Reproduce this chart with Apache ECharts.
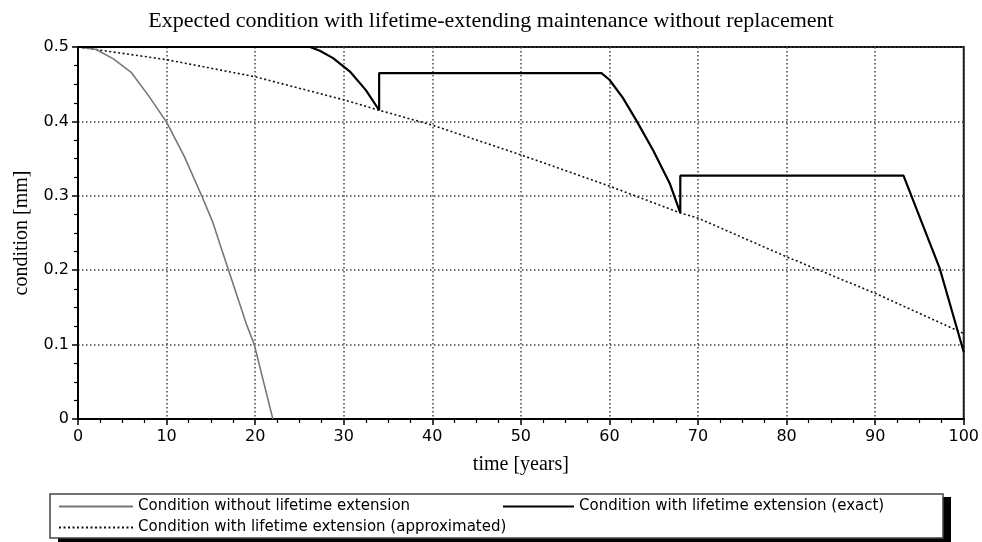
<!DOCTYPE html>
<html>
<head>
<meta charset="utf-8">
<script src="https://cdn.jsdelivr.net/npm/echarts@6/dist/echarts.min.js"></script>
<style>
html,body{margin:0;padding:0;background:#fff;}
#chart{width:982px;height:542px;}
</style>
</head>
<body>
<div id="chart"></div>
<script>
// ---- data ----
var titleText = 'Expected condition with lifetime-extending maintenance without replacement';
var xTicks = [0, 10, 20, 30, 40, 50, 60, 70, 80, 90, 100];
var yTicks = [0, 0.1, 0.2, 0.3, 0.4, 0.5];
var seriesNames = [
  'Condition without lifetime extension',
  'Condition with lifetime extension (exact)',
  'Condition with lifetime extension (approximated)'
];

var noExtX = [0, 2, 4, 6, 8, 10, 12, 14, 15.2, 16, 17, 19, 19.9, 22];
var noExtY = [0.5, 0.497, 0.484, 0.466, 0.434, 0.399, 0.353, 0.299, 0.265, 0.236, 0.2, 0.128, 0.1, 0];

var exactX = [0, 26.2, 27.3, 28.8, 30.7, 32.5, 34, 34, 59.1, 60, 61.5, 63, 64.9, 66.8, 68, 68, 93.2, 97.3, 100];
var exactY = [0.5, 0.5, 0.495, 0.485, 0.467, 0.442, 0.415, 0.465, 0.465, 0.456, 0.432, 0.402, 0.362, 0.317, 0.277, 0.327, 0.327, 0.202, 0.09];

var approxX = [0, 10, 20, 30, 34, 40, 50, 60, 68, 70, 80, 90, 100];
var approxY = [0.5, 0.483, 0.46, 0.429, 0.415, 0.395, 0.355, 0.313, 0.277, 0.27, 0.218, 0.169, 0.115];

function zip(xs, ys) { return xs.map(function (x, i) { return [x, ys[i]]; }); }

var chart = echarts.init(document.getElementById('chart'), null, {renderer: 'canvas'});

var gridLine = {show: true, lineStyle: {color: '#444', width: 1.5, type: [1.5, 2.5]}};
var labelFont = {color: '#000', fontFamily: 'DejaVu Sans', fontSize: 16};
var legendText = {color: '#000', fontFamily: 'DejaVu Sans', fontSize: 15};
var hiddenSymbol = {color: 'rgba(0,0,0,0)', borderWidth: 0, opacity: 0};

var option = {
  backgroundColor: '#fff',
  animation: false,
  title: {
    text: titleText,
    left: 'center',
    top: 5,
    textStyle: {fontFamily: 'Liberation Serif', fontSize: 22, fontWeight: 'normal', color: '#000'}
  },
  grid: {
    left: 78, right: 17, top: 47, bottom: 123,
    show: true, borderColor: '#111', borderWidth: 2, backgroundColor: 'transparent'
  },
  xAxis: {
    type: 'value', min: xTicks[0], max: xTicks[xTicks.length - 1], interval: 10,
    name: 'time [years]', nameLocation: 'middle', nameGap: 36,
    nameTextStyle: {fontFamily: 'Liberation Serif', fontSize: 20, color: '#000'},
    axisLine: {show: true, onZero: false, lineStyle: {color: '#000', width: 2}},
    axisTick: {show: true, length: 6, lineStyle: {color: '#000', width: 1.5}},
    minorTick: {show: true, splitNumber: 4, length: 4, lineStyle: {color: '#000', width: 1.2}},
    axisLabel: Object.assign({margin: 10}, labelFont),
    splitLine: gridLine
  },
  yAxis: {
    type: 'value', min: yTicks[0], max: yTicks[yTicks.length - 1], interval: 0.1,
    name: 'condition [mm]', nameLocation: 'middle', nameGap: 46, nameRotate: 90,
    nameTextStyle: {fontFamily: 'Liberation Serif', fontSize: 20, color: '#000'},
    axisLine: {show: true, onZero: false, lineStyle: {color: '#000', width: 2}},
    axisTick: {show: true, length: 6, lineStyle: {color: '#000', width: 1.5}},
    minorTick: {show: true, splitNumber: 4, length: 4, lineStyle: {color: '#000', width: 1.2}},
    axisLabel: Object.assign({
      margin: 9,
      formatter: function (v) { return v === 0 ? '0' : v.toFixed(1); }
    }, labelFont),
    splitLine: gridLine
  },
  legend: [
    {data: [seriesNames[0]], left: 58, top: 499, padding: 0, itemWidth: 74, itemHeight: 14, itemGap: 0, textStyle: legendText, itemStyle: hiddenSymbol, selectedMode: false},
    {data: [seriesNames[1]], left: 502, top: 499, padding: 0, itemWidth: 71, itemHeight: 14, itemGap: 0, textStyle: legendText, itemStyle: hiddenSymbol, selectedMode: false},
    {data: [seriesNames[2]], left: 58, top: 520, padding: 0, itemWidth: 74, itemHeight: 14, itemGap: 0, textStyle: legendText, itemStyle: hiddenSymbol, selectedMode: false}
  ],
  graphic: [
    {type: 'rect', z: 0, shape: {x: 58, y: 497, width: 893, height: 45}, style: {fill: '#000'}},
    {type: 'rect', z: 1, shape: {x: 50, y: 494, width: 893, height: 44}, style: {fill: '#fff', stroke: '#444', lineWidth: 1.5}}
  ],
  series: [
    {
      name: seriesNames[0], type: 'line', data: zip(noExtX, noExtY),
      showSymbol: false, symbol: 'none', z: 3,
      lineStyle: {color: '#777', width: 1.6}, itemStyle: {color: '#777'}
    },
    {
      name: seriesNames[1], type: 'line', data: zip(exactX, exactY),
      showSymbol: false, symbol: 'none', z: 4,
      lineStyle: {color: '#000', width: 2.2}, itemStyle: {color: '#000'}
    },
    {
      name: seriesNames[2], type: 'line', data: zip(approxX, approxY),
      showSymbol: false, symbol: 'none', z: 2,
      lineStyle: {color: '#111', width: 1.6, type: [2, 2.5]}, itemStyle: {color: '#111'}
    }
  ]
};
chart.setOption(option);
</script>
</body>
</html>
